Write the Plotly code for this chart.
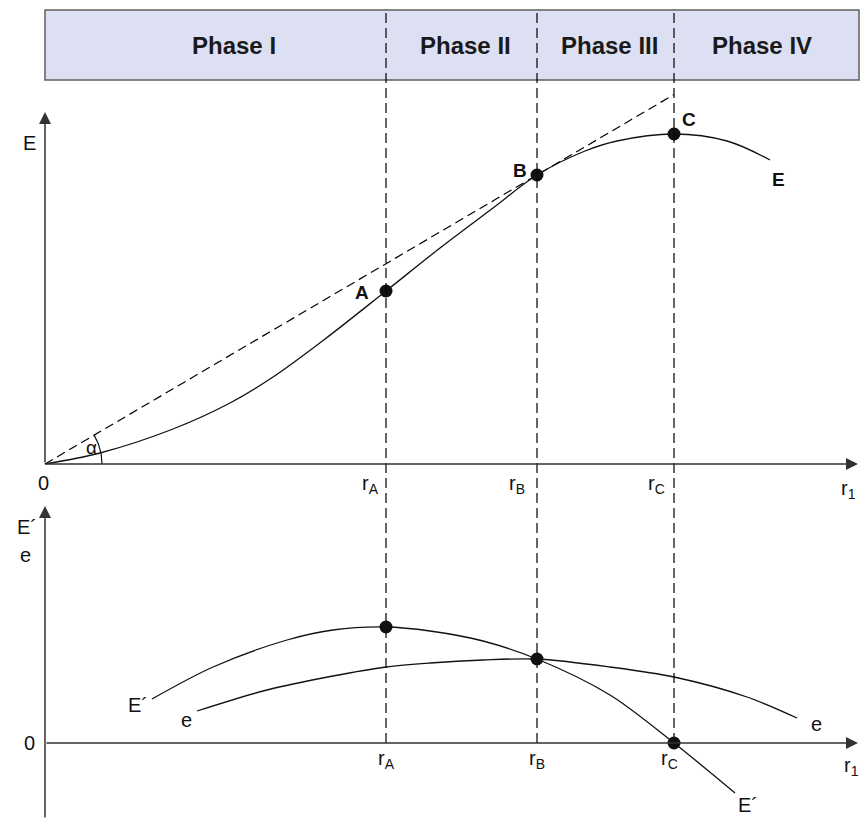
import numpy as np
import plotly.graph_objects as go

# ---- data -------------------------------------------------------------
# input levels marking the phase boundaries
r_marks = {"A": 3.41, "B": 4.92, "C": 6.29}
r_axis_end = 8.13

# total yield curve E(r1)
E_r = [0.0, 0.55, 1.28, 1.85, 2.28, 2.80, 3.41, 3.95, 4.48, 4.92, 5.40, 5.72, 6.29, 6.82, 7.25]
E_v = [0.0, 0.11, 0.35, 0.61, 0.87, 1.25, 1.73, 2.16, 2.56, 2.89, 3.13, 3.23, 3.30, 3.23, 3.04]

# marginal yield E' and average yield e
Ep_r = [1.07, 1.68, 2.42, 2.88, 3.41, 3.85, 4.38, 4.92, 5.65, 6.29, 6.90]
Ep_v = [0.44, 0.76, 1.03, 1.13, 1.16, 1.12, 1.02, 0.84, 0.48, 0.00, -0.50]
e_r = [1.52, 2.22, 2.88, 3.41, 3.85, 4.38, 4.92, 5.65, 6.29, 7.02, 7.52]
e_v = [0.32, 0.53, 0.67, 0.76, 0.80, 0.83, 0.84, 0.76, 0.66, 0.46, 0.25]

phase_names = ["Phase I", "Phase II", "Phase III", "Phase IV"]

# ---- styling ----------------------------------------------------------
FONT = "Arial, Liberation Sans, Helvetica, sans-serif"
INK = "#111111"
AXIS = "#333333"
TXT = 20

rA, rB, rC = r_marks["A"], r_marks["B"], r_marks["C"]
EA, EB, EC = (E_v[E_r.index(r)] for r in (rA, rB, rC))
EpA, EpB, EpC = (Ep_v[Ep_r.index(r)] for r in (rA, rB, rC))

fig = go.Figure()

# phase boundaries: dashed verticals from the lower axis up through the banner
for r in (rA, rB, rC):
    fig.add_trace(go.Scatter(x=[r, r], y=[0, 7.30], yaxis="y2", mode="lines",
                             line=dict(color="#000000", width=1.2, dash="10px,5px"),
                             hoverinfo="skip"))

# ray from the origin, tangent to E at B
slope = EB / rB
fig.add_trace(go.Scatter(x=[0, rC], y=[0, slope * rC], mode="lines",
                         line=dict(color="#000000", width=1.2, dash="9px,5px"),
                         hoverinfo="skip"))

# angle arc
ang = np.linspace(0, np.arctan(slope), 30)
fig.add_trace(go.Scatter(x=0.57 * np.cos(ang), y=0.57 * np.sin(ang), mode="lines",
                         line=dict(color=INK, width=1.2), hoverinfo="skip"))

# total yield curve
fig.add_trace(go.Scatter(x=E_r, y=E_v, mode="lines",
                         line=dict(color=INK, width=1.3, shape="spline", smoothing=1.0),
                         hoverinfo="skip"))
fig.add_trace(go.Scatter(x=[rA, rB, rC], y=[EA, EB, EC], mode="markers",
                         marker=dict(color=INK, size=13), hoverinfo="skip"))

# marginal and average yield curves
fig.add_trace(go.Scatter(x=Ep_r, y=Ep_v, yaxis="y2", mode="lines",
                         line=dict(color=INK, width=1.3, shape="spline", smoothing=0.9),
                         hoverinfo="skip"))
fig.add_trace(go.Scatter(x=e_r, y=e_v, yaxis="y2", mode="lines",
                         line=dict(color=INK, width=1.3, shape="spline", smoothing=0.9),
                         hoverinfo="skip"))
fig.add_trace(go.Scatter(x=[rA, rB, rC], y=[EpA, EpB, EpC], yaxis="y2", mode="markers",
                         marker=dict(color=INK, size=13), hoverinfo="skip"))

annotations = []


def arrow(x0, y0, x1, y1, yref="y"):
    annotations.append(dict(x=x1, y=y1, ax=x0, ay=y0, xref="x", yref=yref,
                            axref="x", ayref=yref, text="", showarrow=True,
                            arrowhead=2, arrowsize=1.6, arrowwidth=1.5,
                            arrowcolor=AXIS, standoff=0, startstandoff=0))


def label(text, x, y, yref="y", size=TXT, bold=False, xanchor="center"):
    if bold:
        text = "<b>" + text + "</b>"
    annotations.append(dict(x=x, y=y, xref="x", yref=yref, text=text, showarrow=False,
                            xanchor=xanchor, yanchor="middle",
                            font=dict(family=FONT, size=size, color=INK)))


# axes of the upper panel
arrow(0, 0, r_axis_end, 0)
arrow(0, 0, 0, 3.52)
# axes of the lower panel
arrow(0, 0, r_axis_end, 0, "y2")
arrow(0, -0.76, 0, 2.37, "y2")

# upper panel texts
label("E", -0.16, 3.21)
label("0", -0.02, -0.19)
label("r<sub>A</sub>", rA - 0.05, -0.20, xanchor="right")
label("r<sub>B</sub>", rB - 0.10, -0.20, xanchor="right")
label("r<sub>C</sub>", rC - 0.07, -0.20, xanchor="right")
label("r<sub>1</sub>", 8.03, -0.25)
label("α", 0.46, 0.17, size=19)
label("A", rA - 0.24, EA - 0.01, bold=True, size=19)
label("B", rB - 0.17, EB + 0.05, bold=True, size=19)
label("C", rC + 0.15, EC + 0.15, bold=True, size=19)
label("E", 7.33, 2.85, bold=True, size=19)

# lower panel texts
label("E´", -0.18, 2.16, "y2")
label("e", -0.20, 1.88, "y2")
label("0", -0.16, 0.0, "y2")
label("r<sub>A</sub>", rA, -0.16, "y2")
label("r<sub>B</sub>", rB, -0.16, "y2")
label("r<sub>C</sub>", rC - 0.05, -0.16, "y2")
label("r<sub>1</sub>", 8.06, -0.23, "y2")
label("E´", 0.93, 0.38, "y2")
label("e", 1.41, 0.23, "y2")
label("e", 7.71, 0.19, "y2")
label("E´", 7.03, -0.62, "y2")

# phase banner
banner_lo, banner_hi = 3.84, 4.54
for name, xc in zip(phase_names, [1.89, 4.20, 5.64, 7.17]):
    annotations.append(dict(x=xc, y=(banner_lo + banner_hi) / 2, xref="x", yref="y",
                            text="<b>" + name + "</b>", showarrow=False,
                            font=dict(family=FONT, size=24, color="#1a1a1a")))

shapes = [dict(type="rect", xref="x", yref="y", x0=0, x1=r_axis_end + 0.01,
               y0=banner_lo, y1=banner_hi, fillcolor="#dde0f3",
               line=dict(color="#5f5f5f", width=1.5), layer="below")]

fig.update_layout(
    width=860, height=818,
    margin=dict(l=0, r=0, t=0, b=0),
    paper_bgcolor="white", plot_bgcolor="white",
    showlegend=False,
    xaxis=dict(range=[-0.45, 8.15], visible=False, fixedrange=True),
    yaxis=dict(range=[-3.54, 4.64], visible=False, domain=[0, 1], fixedrange=True),
    yaxis2=dict(range=[-0.75, 7.43], visible=False, overlaying="y", fixedrange=True),
    annotations=annotations,
    shapes=shapes,
)

fig.write_html("out.html", config={"displayModeBar": False})
